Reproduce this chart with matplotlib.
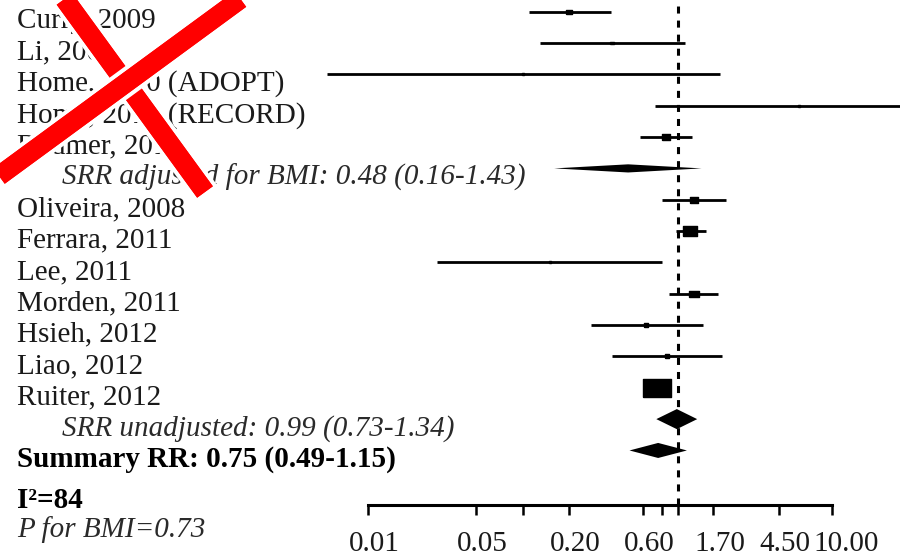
import matplotlib
matplotlib.use("Agg")
import matplotlib.pyplot as plt
import matplotlib.patheffects as pe
from matplotlib.lines import Line2D
from matplotlib.path import Path
from matplotlib.ticker import NullLocator
from matplotlib.transforms import ScaledTranslation

plt.rcParams['font.family'] = ['Liberation Serif', 'DejaVu Serif']

# study data (relative risk with 95% CI)
studies = ["Curry, 2009", "Li, 2009", "Home, 2010 (ADOPT)", "Home, 2010 (RECORD)",
           "Bodmer, 2010", "Oliveira, 2008", "Ferrara, 2011", "Lee, 2011",
           "Morden, 2011", "Hsieh, 2012", "Liao, 2012", "Ruiter, 2012"]
rr = [0.20, 0.38, 0.10, 6.1, 0.84, 1.28, 1.21, 0.15, 1.27, 0.63, 0.86, 0.735]
lo = [0.11, 0.13, 0.0055, 0.72, 0.57, 0.80, 0.98, 0.028, 0.885, 0.275, 0.38, 0.66]
hi = [0.37, 1.11, 1.88, 30.0, 1.24, 2.06, 1.53, 0.79, 1.82, 1.47, 1.93, 0.82]
weights = [6, 1.2, 0.4, 1.0, 10, 10, 29, 0.4, 13, 3, 3, 100]
study_rows = [0, 1, 2, 3, 4, 6, 7, 8, 9, 10, 11, 12]

# pooled estimates
pooled = ["SRR adjusted for BMI: 0.48 (0.16-1.43)",
          "SRR unadjusted: 0.99 (0.73-1.34)",
          "Summary RR: 0.75 (0.49-1.15)"]
pooled_rr = [0.48, 0.99, 0.75]
pooled_lo = [0.16, 0.73, 0.49]
pooled_hi = [1.43, 1.34, 1.15]
pooled_rows = [5, 13, 14]

tick_vals = [0.01, 0.05, 0.1, 0.2, 0.6, 0.8, 1.0, 1.7, 4.5, 10.0]
tick_text = ["0.01", "0.05", "", "0.20", "0.60", "", "", "1.70", "4.50", "10.00"]

W, H = 900, 557
FS = 21
fig = plt.figure(figsize=(W / 100, H / 100), dpi=100)
ax = fig.add_axes([0, 52 / H, 1, 505 / H])

# log axis: 0.01 at x=367.7 px, 154.9 px per decade
x001, dec = 367.7, 154.9
ax.set_xscale('log')
ax.set_xlim(10 ** (-2 - x001 / dec), 10 ** (-2 + (W - x001) / dec))
row_h, row0 = 31.34, 11.7
ax.set_ylim((505 - row0) / row_h, -row0 / row_h)

for s in ['top', 'right', 'left']:
    ax.spines[s].set_visible(False)
ax.spines['bottom'].set_bounds(0.01, 10)
ax.spines['bottom'].set_linewidth(2.2)
ax.set_yticks([])
ax.set_xticks(tick_vals)
ax.set_xticklabels([''] * len(tick_vals))
ax.xaxis.set_minor_locator(NullLocator())
ax.tick_params(axis='x', direction='out', length=7, width=1.8)

# tick labels sit left-aligned a little before each tick, as in the source
lab_tr = ax.get_xaxis_transform() + ScaledTranslation(-0.19, -0.46, fig.dpi_scale_trans)
for v, t in zip(tick_vals, tick_text):
    if t:
        ax.text(v, 0, t, transform=lab_tr, ha='left', va='baseline', fontsize=FS,
                color='#1a1a1a', clip_on=False)

# reference line
ax.axvline(1.0, color='black', lw=2.2, linestyle=(0, (2.3, 2.3)), zorder=1)

# study CIs and weighted boxes
ax.hlines(study_rows, lo, hi, color='black', lw=2.0, zorder=2)
box = Path([(-1.5, -1), (1.5, -1), (1.5, 1), (-1.5, 1), (-1.5, -1)])
for y, est, w in zip(study_rows, rr, weights):
    ax.plot([est], [y], marker=box, color='black', markersize=2.0 * w ** 0.5, zorder=3)

# pooled diamonds
half_h = [0.13, 0.32, 0.24]
for y, est, l, h, dh in zip(pooled_rows, pooled_rr, pooled_lo, pooled_hi, half_h):
    ax.fill([l, est, h, est], [y, y - dh, y, y + dh], color='black', lw=0, zorder=3)

# left column text
txt_tr = ax.get_yaxis_transform() + ScaledTranslation(0, -0.165, fig.dpi_scale_trans)
for y, name in zip(study_rows, studies):
    ax.text(17 / W, y, name, transform=txt_tr, fontsize=FS, va='baseline', ha='left',
            color='#1a1a1a')
ax.text(62 / W, pooled_rows[0], pooled[0], transform=txt_tr, fontsize=FS, style='italic',
        va='baseline', ha='left', color='#2a2a2a')
ax.text(62 / W, pooled_rows[1], pooled[1], transform=txt_tr, fontsize=FS, style='italic',
        va='baseline', ha='left', color='#2a2a2a')
ax.text(17 / W, pooled_rows[2], pooled[2], transform=txt_tr, fontsize=FS, weight='bold',
        va='baseline', ha='left')
fig.text(17 / W, 1 - 508 / H, "I²=84", fontsize=FS, weight='bold', va='baseline')
fig.text(17 / W, 1 - 537 / H, "P for BMI=0.73", fontsize=FS, style='italic', va='baseline',
         color='#2a2a2a')

# red cross over the top-left corner
outline = [pe.withStroke(linewidth=20, foreground='white'), pe.Normal()]
for (xa, ya), (xb, yb) in [((58, -10), (205, 192)), ((-12, 184), (250, -8))]:
    fig.add_artist(Line2D([xa / W, xb / W], [1 - ya / H, 1 - yb / H], transform=fig.transFigure,
                          color='#ff0000', lw=14, solid_capstyle='butt', path_effects=outline,
                          zorder=10))

fig.savefig('out.png', dpi=100, facecolor='white')
